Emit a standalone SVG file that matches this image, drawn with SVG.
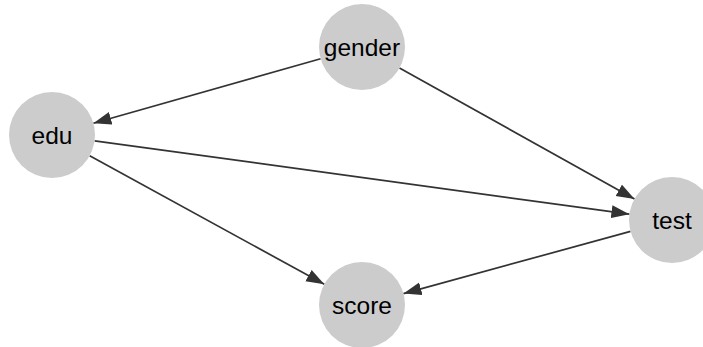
<svg xmlns="http://www.w3.org/2000/svg" width="703" height="347" viewBox="0 0 703 347">
<style>
.node circle{fill:#cccccc;stroke:none}
.node text{font-family:"Liberation Sans",Arial,sans-serif;font-size:24.5px;fill:#000;text-anchor:middle}
.edges line{stroke:#333333;stroke-width:1.7;fill:none}
</style>
<defs>
<marker id="arr" markerUnits="userSpaceOnUse" markerWidth="19" markerHeight="14" refX="18" refY="6.5" orient="auto">
<path d="M0,0 L18,6.5 L0,13 z" fill="#333333"/>
</marker>
</defs>
<rect width="703" height="347" fill="#ffffff"/>
<g id="edges" class="edges">
<line x1="320.6" y1="58.7" x2="93.4" y2="123.3" marker-end="url(#arr)"/>
<line x1="399.5" y1="67.9" x2="634.5" y2="199.1" marker-end="url(#arr)"/>
<line x1="94.6" y1="140.8" x2="629.4" y2="214.2" marker-end="url(#arr)"/>
<line x1="89.7" y1="155.7" x2="324.3" y2="284.3" marker-end="url(#arr)"/>
<line x1="630.5" y1="231.4" x2="403.5" y2="293.6" marker-end="url(#arr)"/>
</g>
<g id="gender" class="node"><circle cx="362" cy="47" r="43"/><text x="362" y="56">gender</text></g>
<g id="edu" class="node"><circle cx="52" cy="135" r="43"/><text x="52" y="144">edu</text></g>
<g id="test" class="node"><circle cx="672" cy="220" r="43"/><text x="672" y="229">test</text></g>
<g id="score" class="node"><circle cx="362" cy="305" r="43"/><text x="362" y="314">score</text></g>
</svg>
